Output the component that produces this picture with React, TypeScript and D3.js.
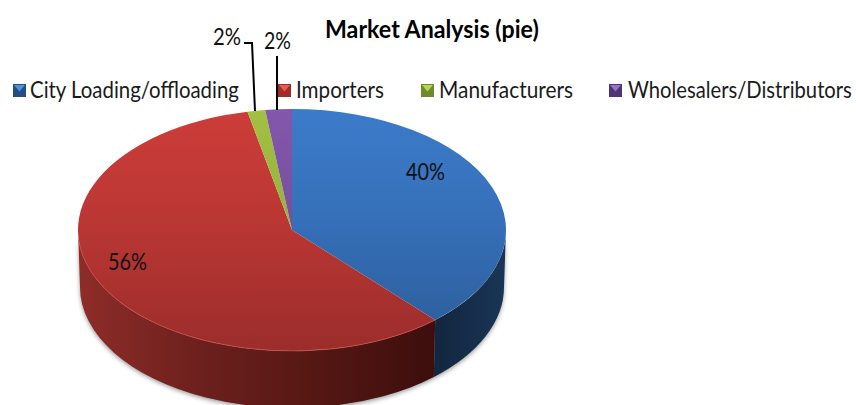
import React, { useLayoutEffect, useRef } from "react";
import * as d3 from "d3";

const chartTitle = "Market Analysis (pie)";
const categories = ["City Loading/offloading", "Importers", "Manufacturers", "Wholesalers/Distributors"];
const shares = [40, 56, 2, 2];
const valueLabels = ["40%", "56%", "2%", "2%"];

const legendSwatchX = [13, 278, 421, 609];
const legendTextX = [30, 296, 439, 628];
const legendTextWidth = [209, 88, 134, 224];

const topLight = ["#3c7bca", "#cc3d39", "#a2c043", "#8357ab"];
const topDark = ["#2b5c98", "#9b2d2b", "#7f9a30", "#64418a"];
const swatchDark = ["#234f84", "#a02c2a", "#6f8a2a", "#4f3378"];
const swatchLight = ["#4f90dc", "#e85a55", "#b6d552", "#9a70c4"];

const W = 856;
const H = 405;
const cx = 292;
const cy = 230;
const rx = 214;
const ry = 121;
const depth = 57;
const lowerRx = 212;

const FONT = "Lato, 'Open Sans', sans-serif";
const deg = Math.PI / 180;

// Perspective tilt of the disc: angle around the flat pie to angle on the drawn ellipse.
const tilt = d3
  .scaleLinear()
  .domain([0, 144 * deg, 345.6 * deg, 352.8 * deg, 360 * deg])
  .range([0, 138 * deg, 348 * deg, 352.8 * deg, 360 * deg]);

const pieGen = d3.pie<number>().sort(null).startAngle(0).endAngle(2 * Math.PI);
const slices = pieGen(shares).map((s, i) => ({
  index: i,
  start: tilt(s.startAngle),
  end: tilt(s.endAngle),
}));

const arcGen = d3.arc<any>().innerRadius(0).outerRadius(rx);

// Clock-style angle (0 at the top) to a point on an ellipse.
const rim = (a: number, radiusX = rx, yOff = 0): [number, number] => [
  cx + radiusX * Math.sin(a),
  cy + yOff - ry * Math.cos(a),
];

// Wall of the disc between two angles on the front half.
function wallPath(a: number, b: number) {
  const [x0, y0] = rim(a);
  const [x1, y1] = rim(b);
  const [x2, y2] = rim(b, lowerRx, depth);
  const [x3, y3] = rim(a, lowerRx, depth);
  return `M${x0},${y0}A${rx},${ry} 0 0 1 ${x1},${y1}L${x2},${y2}A${lowerRx},${ry} 0 0 0 ${x3},${y3}Z`;
}

function rimArc(a: number, b: number) {
  const [x0, y0] = rim(a);
  const [x1, y1] = rim(b);
  return `M${x0},${y0}A${rx},${ry} 0 0 1 ${x1},${y1}`;
}

const frontStart = Math.PI / 2;
const frontEnd = (3 * Math.PI) / 2;
const walls = slices
  .map((s) => ({ index: s.index, a: Math.max(s.start, frontStart), b: Math.min(s.end, frontEnd) }))
  .filter((w) => w.b > w.a);

const silhouette = wallPath(frontStart, frontEnd);

const labelPositions = [
  { x: 406, y: 180, w: 39 },
  { x: 108, y: 270, w: 39 },
  { x: 213, y: 45, w: 28 },
  { x: 264, y: 49, w: 27 },
];

const leaderOne = d3.line()([[244, 43], [252, 43], [255, 111]]) as string;
const leaderTwo = d3.line()([[277, 56], [277, 110]]) as string;

// Text squeezed horizontally to an exact run width, in the narrow look of the chart's typeface.
function FitText({ x, y, width, size, weight = 400, fill, children }: {
  x: number; y: number; width: number; size: number; weight?: number; fill: string; children: string;
}) {
  const ref = useRef<SVGTextElement>(null);
  useLayoutEffect(() => {
    const el = ref.current;
    if (!el) return;
    const natural = el.getComputedTextLength();
    el.setAttribute("transform", `translate(${x},${y}) scale(${width / natural},1)`);
  }, [x, y, width, children]);
  return (
    <text ref={ref} transform={`translate(${x},${y})`} fontFamily={FONT} fontSize={size} fontWeight={weight} fill={fill}>
      {children}
    </text>
  );
}

function Swatch({ x, i }: { x: number; i: number }) {
  const y = 84;
  const s = 13;
  return (
    <g>
      <rect x={x} y={y} width={s} height={s} fill={swatchDark[i]} />
      <path d={`M${x + 1},${y + 1}L${x + s - 1},${y + 1}L${x + s / 2},${y + s / 2 + 1}Z`} fill={swatchLight[i]} />
    </g>
  );
}

export default function App() {
  return (
    <svg
      width={W}
      height={H}
      viewBox={`0 0 ${W} ${H}`}
      style={{ position: "absolute", left: 0, top: 0, display: "block", background: "#fff" }}
    >
      <defs>
        {categories.map((_, i) => (
          <linearGradient key={i} id={`top${i}`} gradientUnits="userSpaceOnUse" x1={0} y1={-rx} x2={0} y2={rx}>
            <stop offset="0" stopColor={topLight[i]} />
            <stop offset="0.45" stopColor={d3.interpolateRgb(topLight[i], topDark[i])(0.35)} />
            <stop offset="1" stopColor={topDark[i]} />
          </linearGradient>
        ))}
        <linearGradient id="wall0" gradientUnits="userSpaceOnUse" x1={433} y1={0} x2={506} y2={0}>
          <stop offset="0" stopColor="#11263f" />
          <stop offset="1" stopColor="#1a3556" />
        </linearGradient>
        <linearGradient id="wall1" gradientUnits="userSpaceOnUse" x1={78} y1={0} x2={433} y2={0}>
          <stop offset="0" stopColor="#8f2c29" />
          <stop offset="0.35" stopColor="#6c201d" />
          <stop offset="0.65" stopColor="#571814" />
          <stop offset="1" stopColor="#3d0e0c" />
        </linearGradient>
        <filter id="discShadow" x="-10%" y="-20%" width="120%" height="140%">
          <feGaussianBlur stdDeviation="2" />
        </filter>
      </defs>

      <FitText x={325} y={38} width={214} size={25} weight={700} fill="#000">
        {chartTitle}
      </FitText>

      {categories.map((c, i) => (
        <g key={c}>
          <Swatch x={legendSwatchX[i]} i={i} />
          <FitText x={legendTextX[i]} y={98} width={legendTextWidth[i]} size={24} fill="#1a1a1a">
            {c}
          </FitText>
        </g>
      ))}

      <path d={silhouette} transform="translate(0,2)" fill="#555" opacity={0.55} filter="url(#discShadow)" />

      {walls.map((w) => (
        <path key={w.index} d={wallPath(w.a, w.b)} fill={`url(#wall${w.index})`} />
      ))}

      <g transform={`translate(${cx},${cy}) scale(1,${ry / rx})`}>
        {slices.map((s) => (
          <path
            key={s.index}
            d={arcGen({ startAngle: s.start, endAngle: s.end }) as string}
            fill={`url(#top${s.index})`}
          />
        ))}
      </g>

      <path d={rimArc(slices[1].start, 265 * deg)} fill="none" stroke="#c9504a" strokeWidth={1} opacity={0.8} />

      {valueLabels.map((t, i) => (
        <FitText key={i} x={labelPositions[i].x} y={labelPositions[i].y} width={labelPositions[i].w} size={24} fill="#111">
          {t}
        </FitText>
      ))}

      <path d={leaderOne} fill="none" stroke="#000" strokeWidth={2} />
      <path d={leaderTwo} fill="none" stroke="#000" strokeWidth={2} />
    </svg>
  );
}
